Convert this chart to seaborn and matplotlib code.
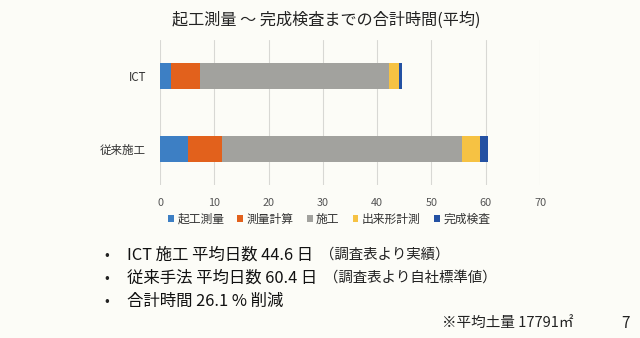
import numpy as np
import pandas as pd
import matplotlib
matplotlib.use("Agg")
import matplotlib.pyplot as plt
import seaborn as sns
from matplotlib.patches import Patch

categories = ["ICT", "従来施工"]
stages = ["起工測量", "測量計算", "施工", "出来形計測", "完成検査"]
kiko = [2.0, 5.1]
keisan = [5.4, 6.3]
seko = [34.8, 44.2]
dekigata = [1.8, 3.3]
kansei = [0.6, 1.5]
xticks = [0, 10, 20, 30, 40, 50, 60, 70]
colors = ["#3d7fc4", "#e2611c", "#a2a29e", "#f6c243", "#2451a3"]

title = "起工測量 ～ 完成検査までの合計時間(平均)"
bullet_main = ["ICT 施工 平均日数 44.6 日",
               "従来手法 平均日数 60.4 日",
               "合計時間 26.1 % 削減"]
bullet_note = ["（調査表より実績）", "（調査表より自社標準値）", ""]
note = "※平均土量 17791㎡"
page = "7"

sns.set_theme(style="white")
plt.rcParams['font.family'] = ['Noto Sans CJK JP', 'DejaVu Sans']

W, H = 640, 338
bg = "#fcfcf7"
fig = plt.figure(figsize=(6.4, 3.38), dpi=100, facecolor=bg)
ax = fig.add_axes([160/W, 1-185/H, 380/W, 145/H])
ax.set_facecolor(bg)

series = [kiko, keisan, seko, dekigata, kansei]
cum = np.cumsum(np.array(series), axis=0)
# draw from the longest cumulative to the shortest so each segment is visible
for i in range(len(stages) - 1, -1, -1):
    df = pd.DataFrame({"cat": categories, "val": cum[i]})
    sns.barplot(data=df, x="val", y="cat", orient="h", color=colors[i],
                width=0.36, saturation=1, ax=ax, linewidth=0, zorder=3)

ax.set_xlim(0, 70)
ax.set_ylim(1.5, -0.5)
ax.set_xticks(xticks)
ax.set_xticklabels([str(t) for t in xticks], fontsize=7.8, color="#555555")
ax.tick_params(axis="x", length=0, pad=9)
ax.tick_params(axis="y", length=0, pad=10, labelsize=8.3, labelcolor="#333333")
ax.set_xlabel("")
ax.set_ylabel("")
ax.grid(axis="x", color="#d8d8d4", linewidth=0.8, zorder=0)
ax.grid(axis="y", visible=False)
for s in ax.spines.values():
    s.set_visible(False)

handles = [Patch(facecolor=c, edgecolor="none") for c in colors]
fig.legend(handles, stages, loc="center", bbox_to_anchor=(329/W, 1-219.5/H),
           ncol=5, frameon=False, fontsize=8.5, handlelength=0.5, handleheight=0.5,
           handletextpad=0.3, columnspacing=1.1, labelcolor="#333333")

fig.text(326/W, 1-20/H, title, ha="center", va="center", fontsize=11.6,
         color="#222222")

ys = [255, 278, 301]
fig.canvas.draw()
renderer = fig.canvas.get_renderer()
for y, t, n in zip(ys, bullet_main, bullet_note):
    fig.text(107/W, 1-y/H, "•", ha="center", va="center", fontsize=10, color="#222222")
    tm = fig.text(127/W, 1-y/H, t, ha="left", va="center", fontsize=11.8, color="#111111")
    if n:
        bb = tm.get_window_extent(renderer=renderer)
        fig.text((bb.x1 + 7)/W, 1-y/H, n, ha="left", va="center", fontsize=10.4,
                 color="#222222")

fig.text(573/W, 1-323/H, note, ha="right", va="center", fontsize=10.5, color="#222222")
fig.text(625/W, 1-324/H, page, ha="center", va="center", fontsize=11, color="#222222")

fig.savefig("out.png", dpi=100, facecolor=bg)
